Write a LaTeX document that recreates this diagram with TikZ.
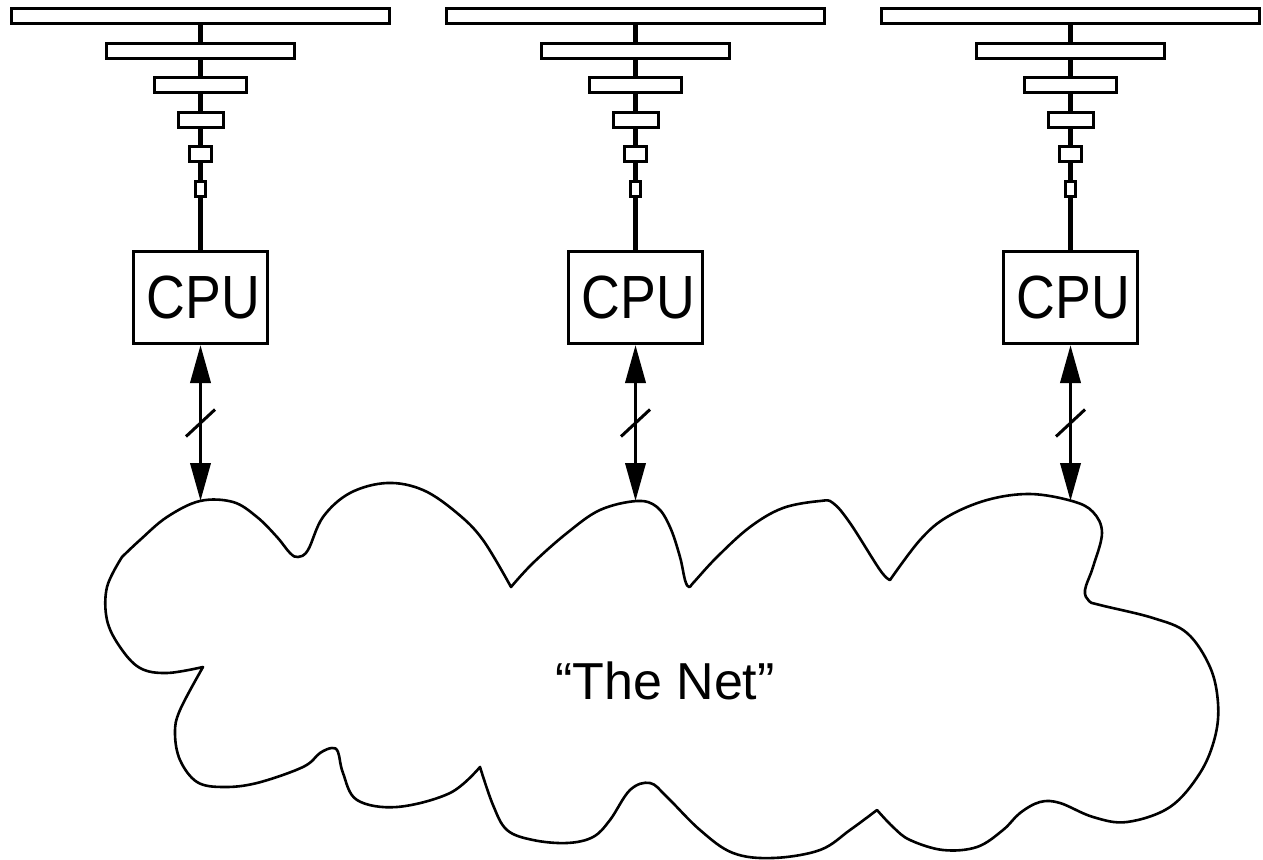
\documentclass[tikz,border=0pt]{standalone}
\usepackage{fontspec}
\setmainfont{Liberation Sans}
\usetikzlibrary{arrows.meta,calc}

\begin{document}
\begin{tikzpicture}[x=1pt,y=-1pt,
  level/.style={draw,line width=3pt,fill=white,inner sep=0pt,minimum height=15pt},
  cpubox/.style={draw,line width=3pt,inner sep=0pt,minimum width=134pt,minimum height=92pt,
                 font=\fontsize{61}{61}\selectfont},
  bus/.style={line width=4.2pt},
  link/.style={line width=3.8pt,{Triangle[length=38pt,width=20pt]}-{Triangle[length=38pt,width=20pt]}},
  tick/.style={line width=3pt},
  cloud/.style={line width=2.6pt,line join=round},
  netlabel/.style={font=\fontsize{52}{52}\selectfont,inner sep=0pt,anchor=base}]
\useasboundingbox (0,0) rectangle (1263,859);

% three processors, each with its storage hierarchy above it
\foreach \i/\cx in {1/200.5, 2/635.5, 3/1070.5} {
  \node[level,minimum width=378pt] (m\i-0) at (\cx,16.5)  {};
  \node[level,minimum width=188pt] (m\i-1) at (\cx,50.9)  {};
  \node[level,minimum width=92pt]  (m\i-2) at (\cx,85.3)  {};
  \node[level,minimum width=45pt]  (m\i-3) at (\cx,119.7) {};
  \node[level,minimum width=22pt]  (m\i-4) at (\cx,154.1) {};
  \node[level,minimum width=10pt]  (m\i-5) at (\cx,188.5) {};
  \node[cpubox] (cpu\i) at (\cx,297.5) {\hspace*{6pt}\scalebox{0.88}[1]{CPU}};
  \draw[bus] (m\i-0) -- (m\i-1);
  \draw[bus] (m\i-1) -- (m\i-2);
  \draw[bus] (m\i-2) -- (m\i-3);
  \draw[bus] (m\i-3) -- (m\i-4);
  \draw[bus] (m\i-4) -- (m\i-5);
  \draw[bus] (m\i-5) -- (cpu\i);
  % link down to the network, with a bus-width tick
  \coordinate (net\i) at (\cx,501);
  \draw[link] (cpu\i) -- (net\i);
  \coordinate (mid\i) at ($(cpu\i.south)!0.5!(net\i)$);
  \draw[tick] ($(mid\i)+(-14.5,13.5)$) -- ($(mid\i)+(14.5,-13.5)$);
}

% the network cloud
\draw[cloud]
  plot[smooth,tension=0.6] coordinates {(122,557) (140,540) (167,517) (200,501) (233,502) (257,517) (277,537) (290,553) (298,557) (308,550) (323,517) (350,493) (387,483) (423,490) (457,513) (483,540) (511,587)}
  -- plot[smooth,tension=0.6] coordinates {(511,587) (533,563) (567,533) (600,510) (637,501) (657,507) (670,527) (680,557) (685,580) (689,587) (694,582) (717,557) (750,527) (783,508) (820,501) (833,503) (850,523) (880,570) (890,580)}
  -- plot[smooth,tension=0.6] coordinates {(890,580) (920,540) (947,517) (987,500) (1030,494) (1072,501) (1093,512) (1102,533) (1093,567) (1085,590) (1089,601) (1100,605) (1153,618) (1187,633) (1210,667) (1218,703) (1215,737) (1200,773) (1170,807) (1127,822) (1093,817) (1060,803) (1040,802) (1020,813) (1003,830) (977,847) (943,850) (910,840) (893,827) (877,810)}
  -- plot[smooth,tension=0.6] coordinates {(877,810) (850,830) (820,850) (773,858) (733,853) (700,830) (667,797) (650,783) (630,790) (610,820) (593,837) (567,843) (533,840) (507,830) (493,805) (480,767)}
  -- plot[smooth,tension=0.6] coordinates {(480,767) (450,793) (397,807) (357,800) (343,773) (338,752) (332,748) (320,753) (303,767) (257,783) (223,787) (197,782) (180,760) (175,733) (180,710) (203,667)}
  -- plot[smooth,tension=0.6] coordinates {(203,667) (167,673) (140,668) (120,647) (107,620) (107,587) (122,557)}
  -- cycle;

\node[netlabel] (netname) at (665,699) {“The Net”};
\end{tikzpicture}
\end{document}
